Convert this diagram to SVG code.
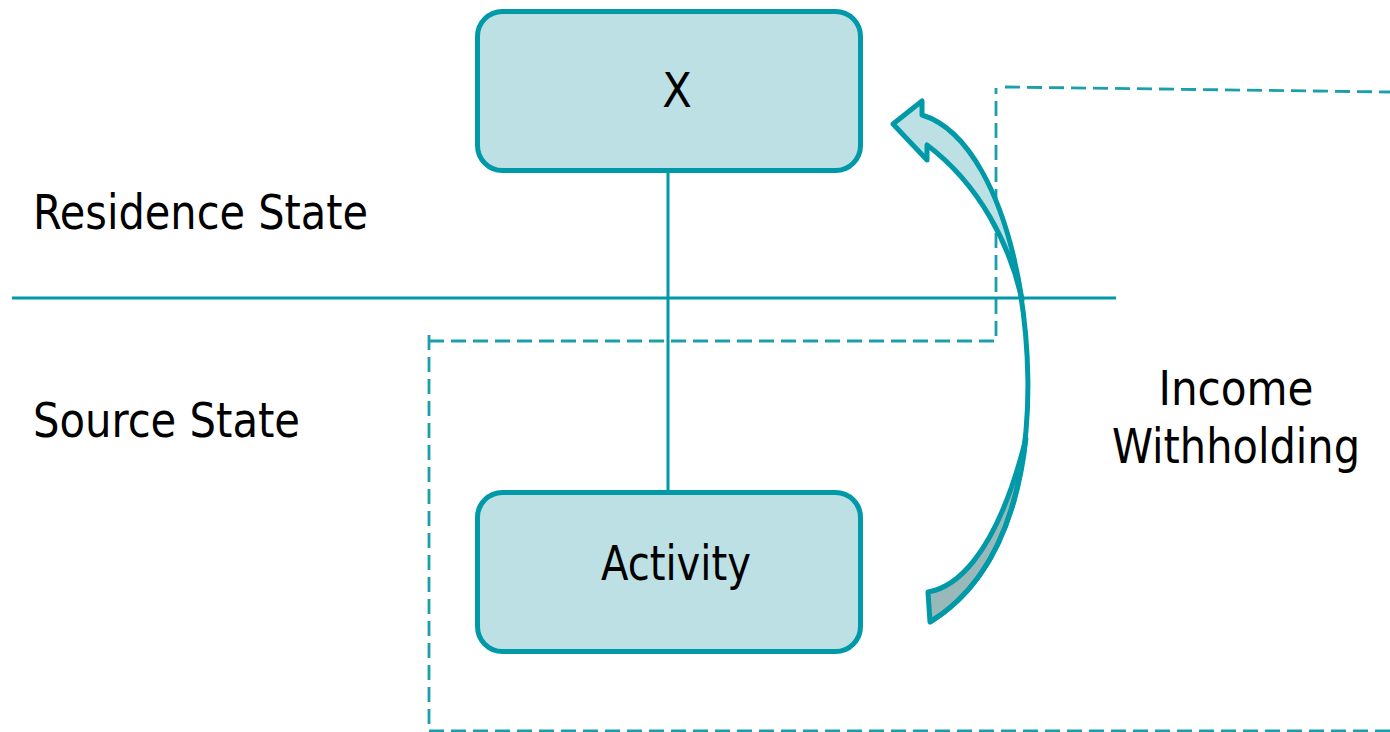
<svg xmlns="http://www.w3.org/2000/svg" width="1390" height="732" viewBox="0 0 1390 732">
<style>
.box{fill:#bce0e3;stroke:#0099a8;stroke-width:5}
.txt{font-family:"DejaVu Sans Condensed","DejaVu Sans",sans-serif;font-size:48px;fill:#000}
.solid{stroke:#0099a8;stroke-width:3;fill:none}
.dash{stroke:#1a9fab;stroke-width:2.8;fill:none;stroke-dasharray:15 7}
.arrow{stroke:#0099a8;stroke-width:5;stroke-linejoin:round}
</style>
<rect width="1390" height="732" fill="#fff"/>
<g id="connectors">
<path class="dash" d="M1390,731 L429,731 L429,332 M429,341 L996,341 L996,88 M1005,87 L1390,92"/>
<line class="solid" x1="12" y1="298" x2="1116" y2="298"/>
<line class="solid" x1="668" y1="172" x2="668" y2="492"/>
<g id="income-arrow">
<path class="arrow" fill="#bce0e3" d="M893,124 L922,101 L922,115 C965,128 1005,190 1022,300 C1010,245 980,185 927,145 L927,160 Z"/>
<path class="arrow" fill="#99b8ba" d="M930,622 L928,592 C952,588 995,562 1025.9,438.7 C1017.84,512.32 991.2,584.8 930,622 Z"/>
<path class="arrow" fill="none" stroke-width="6.5" d="M1020,290 C1038,400 1032,560 930,622"/>
</g>
</g>
<g id="node-x">
<rect class="box" x="477.5" y="11.5" width="383" height="159" rx="25"/>
<text class="txt" x="677" y="107" text-anchor="middle">X</text>
</g>
<g id="node-activity">
<rect class="box" x="477.5" y="492.5" width="383" height="159" rx="25"/>
<text class="txt" x="676" y="580" text-anchor="middle" textLength="150" lengthAdjust="spacingAndGlyphs">Activity</text>
</g>
<g id="label-residence">
<text class="txt" x="33" y="229" textLength="335" lengthAdjust="spacingAndGlyphs">Residence State</text>
</g>
<g id="label-source">
<text class="txt" x="33" y="437" textLength="267" lengthAdjust="spacingAndGlyphs">Source State</text>
</g>
<g id="label-income">
<text class="txt" x="1236" y="405" text-anchor="middle" textLength="155" lengthAdjust="spacingAndGlyphs">Income</text>
<text class="txt" x="1236" y="463" text-anchor="middle" textLength="248" lengthAdjust="spacingAndGlyphs">Withholding</text>
</g>
</svg>
